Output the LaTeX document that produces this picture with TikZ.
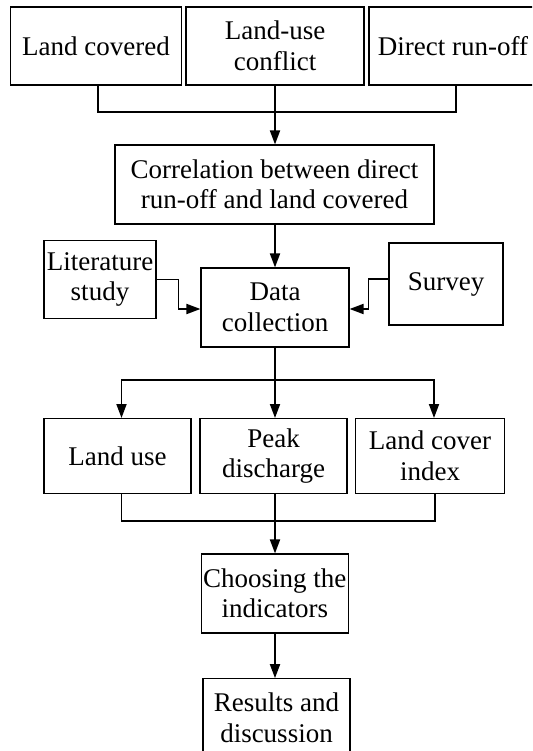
\documentclass[tikz,border=0pt]{standalone}
\usepackage{fontspec}
\setmainfont{Liberation Serif}
\usetikzlibrary{arrows.meta}
\begin{document}
\begin{tikzpicture}[x=1pt,y=1pt,
  box/.style={draw, line width=1.1pt, align=center, inner sep=0pt,
    font=\fontsize{27}{30.5}\selectfont},
  conn/.style={line width=1.8pt},
  arr/.style={conn, -{Triangle[length=14pt,width=10pt]}}]
\useasboundingbox (0,0) rectangle (532,-751);
\clip (0,0) rectangle (532,-751);
% top row
\node[box, minimum width=171pt, minimum height=78pt] (lc) at (96,-46) {Land covered};
\node[box, minimum width=178pt, minimum height=78pt] (luc) at (275,-46) {Land-use\\conflict};
\node[box, minimum width=168pt, minimum height=78pt] (dro) at (453,-46) {Direct run-off};
% correlation
\node[box, minimum width=319pt, minimum height=79pt] (corr) at (274.5,-184.5) {Correlation between direct\\run-off and land covered};
% middle
\node[box, minimum width=112pt, minimum height=78pt] (lit) at (100,-279.4) {Literature\\study};
\node[box, minimum width=148pt, minimum height=79pt] (data) at (275,-307.5) {Data\\collection};
\node[box, minimum width=114pt, minimum height=82pt] (survey) at (446,-284) {Survey};
% third row
\node[box, minimum width=147pt, minimum height=74.5pt] (lu) at (117.5,-455.8) {Land use};
\node[box, minimum width=147pt, minimum height=74.5pt] (pd) at (273.5,-455.8) {Peak\\discharge};
\node[box, minimum width=149pt, minimum height=74.5pt] (lci) at (430,-455.8) {Land cover\\index};
% bottom
\node[box, minimum width=147.5pt, minimum height=79pt] (choose) at (274.8,-593.5) {Choosing the\\indicators};
\node[box, minimum width=147pt, minimum height=78pt] (res) at (276.5,-717.7) {Results and\\discussion};
% connectors top
\coordinate (j1) at (275,-112);
\draw[conn] ([xshift=2pt]lc.south) |- (j1) -| ([xshift=3pt]dro.south);
\draw[arr] (luc.south) -- (luc.south |- corr.north);
\draw[arr] (corr.south -| data.north) -- (data.north);
% side inputs
\draw[arr] (lit.east) -- ++(22,0) |- ([yshift=-1.5pt]data.west);
\draw[arr] ([yshift=5pt]survey.west) -- ++(-20,0) |- ([yshift=-1.5pt]data.east);
% split
\coordinate (j2) at (275,-380);
\draw[conn] (data.south) -- (j2);
\draw[arr] (j2) -| ([xshift=4pt]lu.north);
\draw[arr] (j2) -| ([xshift=4pt]lci.north);
\draw[arr] (j2) -- (j2 |- pd.north);
% merge
\coordinate (j3) at (275,-521);
\draw[conn] ([xshift=4pt]lu.south) |- (j3) -| ([xshift=5pt]lci.south);
\draw[conn] (pd.south -| j3) -- (j3);
\draw[arr] (j3) -- (j3 |- choose.north);
\draw[arr] (choose.south -| j3) -- (j3 |- res.north);
\end{tikzpicture}
\end{document}
